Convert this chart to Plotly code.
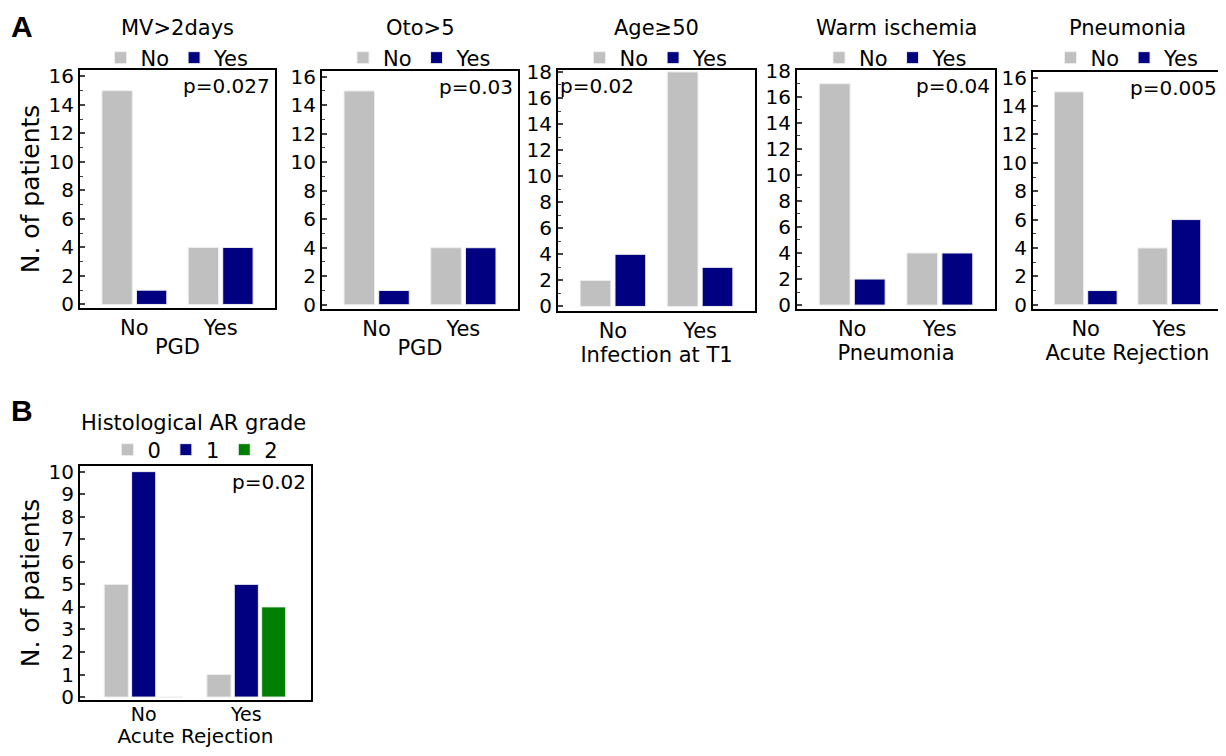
import plotly.graph_objects as go

# page body has an 8px margin: the figure is sized so it fits the 1226x756 window
OFF = 8
W, H = 1226 - OFF, 756 - 2 * OFF
FONT = "DejaVu Sans, Liberation Sans, Arial, sans-serif"

GREY = "#c0c0c0"
NAVY = "#000080"
GREEN = "#008000"

cats = ["No", "Yes"]

# Panel A data
titles = ["MV>2days", "Oto>5", "Age≥50", "Warm ischemia", "Pneumonia"]
xtitles = ["PGD", "PGD", "Infection at T1", "Pneumonia", "Acute Rejection"]
vals_no = [[15, 4], [15, 4], [2, 18], [17, 4], [15, 4]]
vals_yes = [[1, 4], [1, 4], [4, 3], [2, 4], [1, 6]]
pvals = ["p=0.027", "p=0.03", "p=0.02", "p=0.04", "p=0.005"]

# Panel B data
b_title = "Histological AR grade"
b_xtitle = "Acute Rejection"
grades = ["0", "1", "2"]
grade_vals = [[5, 1], [10, 5], [0, 4]]
b_p = "p=0.02"

# layout geometry (target screen pixels)
frames = [(80, 275, 70, 308), (322, 518, 71, 309), (558, 755, 70, 311),
          (797, 995, 70, 309), (1033, 1222, 72, 309)]
frameB = (80, 311, 466, 700)
yranges = [[-0.25, 16.45], [-0.3, 16.4], [-0.35, 18.15], [-0.3, 18.05], [-0.3, 16.4]]
p_left = [False, False, True, False, False]


def px(x):
    return (x - OFF) / W


def py(y):
    return 1 - (y - OFF) / H


def xd(a, b):
    return [px(a), px(b)]


def yd(t, b):
    return [py(b), py(t)]


TICK = 20
LAB = 21

fig = go.Figure()
layout = dict(
    width=W, height=H, margin=dict(l=0, r=0, t=0, b=0, pad=0, autoexpand=False),
    paper_bgcolor="white", plot_bgcolor="white",
    font=dict(family=FONT, size=LAB, color="black"),
    barmode="group", showlegend=True,
)
annotations = []


def axis_common():
    return dict(showline=True, linecolor="black", linewidth=2, mirror=True,
                showgrid=False, zeroline=False, automargin=False)


bar_line = dict(color="#eeeeee", width=1)

for i in range(5):
    n = i + 1
    xa = "x" if n == 1 else f"x{n}"
    ya = "y" if n == 1 else f"y{n}"
    lg = "legend" if n == 1 else f"legend{n}"
    fig.add_trace(go.Bar(x=cats, y=vals_no[i], name="No", marker=dict(color=GREY, line=bar_line),
                         xaxis=xa, yaxis=ya, legend=lg))
    fig.add_trace(go.Bar(x=cats, y=vals_yes[i], name="Yes", marker=dict(color=NAVY, line=bar_line),
                         xaxis=xa, yaxis=ya, legend=lg))
    l, r, t, b = frames[i]
    xkey = "xaxis" if n == 1 else f"xaxis{n}"
    ykey = "yaxis" if n == 1 else f"yaxis{n}"
    layout[xkey] = dict(axis_common(), domain=xd(l, r), anchor=ya, range=[-0.63, 1.63],
                        ticks="", tickfont=dict(size=LAB),
                        title=dict(text=xtitles[i], font=dict(size=LAB), standoff=0))
    layout[ykey] = dict(axis_common(), domain=yd(t, b), anchor=xa, range=yranges[i],
                        ticks="inside", ticklen=5, tickwidth=1.5, dtick=2, tick0=0,
                        tickfont=dict(size=TICK),
                        minor=dict(ticks="inside", ticklen=3, dtick=1, tickwidth=1),
                        title=dict(text="N. of patients" if n == 1 else "", font=dict(size=25), standoff=2))
    cx = (px(l) + px(r)) / 2
    layout[lg] = dict(orientation="h", x=cx, xanchor="center", y=py(58), yanchor="middle",
                      font=dict(size=LAB), bgcolor="rgba(0,0,0,0)",
                      itemclick=False, itemdoubleclick=False)
    annotations.append(dict(text=titles[i], x=cx, y=py(28), xref="paper", yref="paper",
                            showarrow=False, font=dict(size=LAB), xanchor="center", yanchor="middle"))
    if p_left[i]:
        annotations.append(dict(text=pvals[i], x=0.0, y=0.99, xref=f"{xa} domain", yref=f"{ya} domain",
                                showarrow=False, xanchor="left", yanchor="top", font=dict(size=TICK)))
    else:
        annotations.append(dict(text=pvals[i], x=0.985, y=0.99, xref=f"{xa} domain", yref=f"{ya} domain",
                                showarrow=False, xanchor="right", yanchor="top", font=dict(size=TICK)))

# Panel B
colorsB = [GREY, NAVY, GREEN]
for g, v, c in zip(grades, grade_vals, colorsB):
    fig.add_trace(go.Bar(x=cats, y=v, name=g, marker=dict(color=c, line=bar_line),
                         xaxis="x6", yaxis="y6", legend="legend6"))
l, r, t, b = frameB
layout["xaxis6"] = dict(axis_common(), domain=xd(l, r), anchor="y6", range=[-0.62, 1.63],
                        ticks="", tickfont=dict(size=19), ticklabelstandoff=-4,
                        title=dict(text=b_xtitle, font=dict(size=20), standoff=0))
layout["yaxis6"] = dict(axis_common(), domain=yd(t, b), anchor="x6", range=[-0.13, 10.25],
                        ticks="inside", ticklen=5, tickwidth=1.5, dtick=1, tick0=0,
                        tickfont=dict(size=TICK),
                        title=dict(text="N. of patients", font=dict(size=25), standoff=2))
cxB = (px(l) + px(r)) / 2
layout["legend6"] = dict(orientation="h", x=cxB, xanchor="center", y=py(450), yanchor="middle",
                         font=dict(size=LAB), bgcolor="rgba(0,0,0,0)",
                         itemclick=False, itemdoubleclick=False)
annotations.append(dict(text=b_title, x=px(193), y=py(423), xref="paper", yref="paper",
                        showarrow=False, font=dict(size=LAB), xanchor="center", yanchor="middle"))
annotations.append(dict(text=b_p, x=0.985, y=0.99, xref="x6 domain", yref="y6 domain",
                        showarrow=False, xanchor="right", yanchor="top", font=dict(size=TICK)))

# panel letters
annotations.append(dict(text="<b>A</b>", x=px(9), y=1.0, xref="paper", yref="paper",
                        showarrow=False, font=dict(size=30, family="Liberation Sans, Arial"),
                        xanchor="left", yanchor="top"))
annotations.append(dict(text="<b>B</b>", x=px(9), y=py(410), xref="paper", yref="paper",
                        showarrow=False, font=dict(size=30, family="Liberation Sans, Arial"),
                        xanchor="left", yanchor="middle"))

layout["annotations"] = annotations
layout["bargap"] = 0.2
layout["bargroupgap"] = 0.12
fig.update_layout(**layout)

fig.write_html("out.html")
